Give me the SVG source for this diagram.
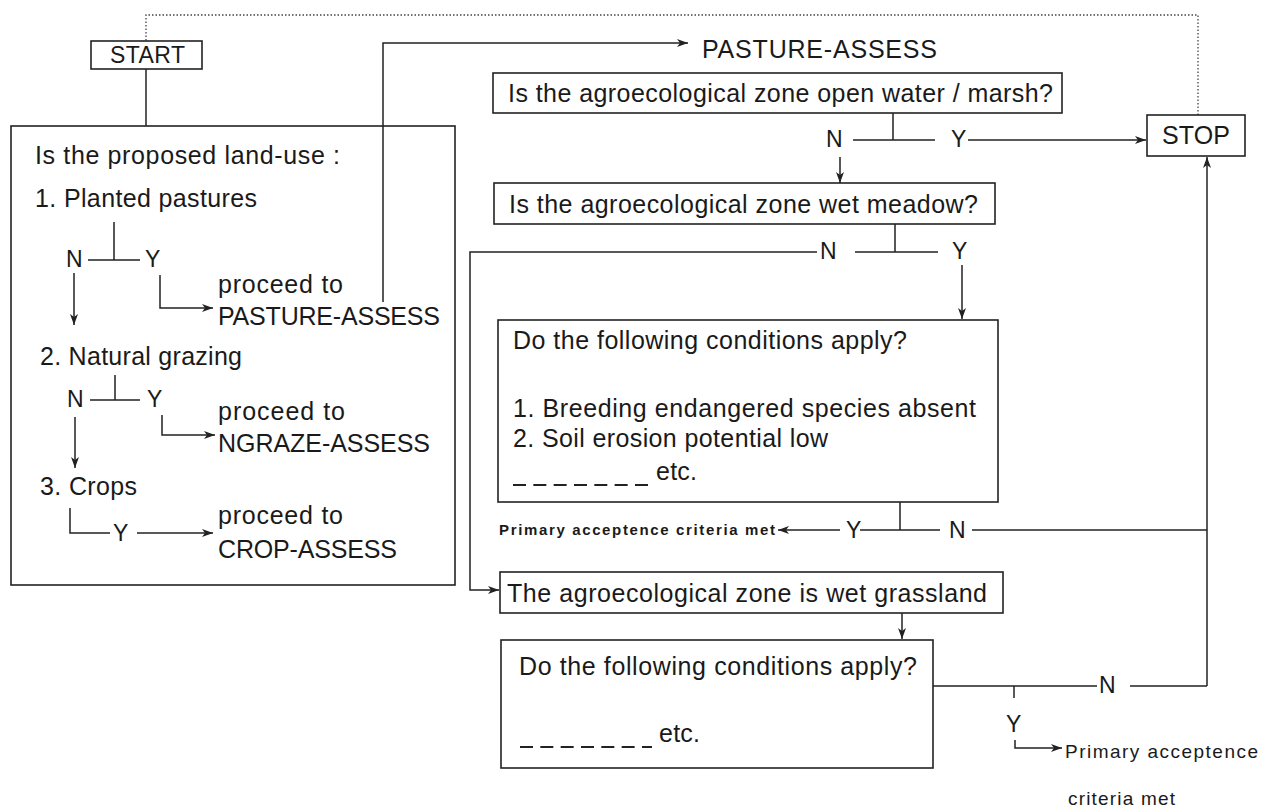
<svg xmlns="http://www.w3.org/2000/svg" width="1268" height="811" viewBox="0 0 1268 811">
<style>
.bg{fill:#ffffff}
.box{fill:none;stroke:#222;stroke-width:1.6}
.ln{fill:none;stroke:#222;stroke-width:1.5}
.dot{fill:none;stroke:#444;stroke-width:1.3;stroke-dasharray:1.5 2}
.dash{fill:none;stroke:#222;stroke-width:2;stroke-dasharray:13 7.33}
.t{font-family:"Liberation Sans",Arial,Helvetica,sans-serif;font-size:25px;fill:#1a1a1a}
.st{font-family:"Liberation Sans",Arial,Helvetica,sans-serif;font-size:23px;fill:#1a1a1a}
.lb{font-family:"Liberation Sans",Arial,Helvetica,sans-serif;font-size:23px;fill:#1a1a1a}
.sm{font-family:"Liberation Sans",Arial,Helvetica,sans-serif;font-size:15px;font-weight:bold;fill:#1a1a1a}
.sm2{font-family:"Liberation Sans",Arial,Helvetica,sans-serif;font-size:19px;fill:#1a1a1a}
</style>
<defs>
<marker id="ah" markerUnits="userSpaceOnUse" markerWidth="12" markerHeight="10" refX="11" refY="5" orient="auto">
<path d="M0,1 L11,5 L0,9 L3,5 z" fill="#222"/>
</marker>
</defs>
<rect class="bg" x="0" y="0" width="1268" height="811"/>

<g id="connectors">
<path class="ln" d="M146,69 V126"/>
<path class="dot" d="M1198,115 V15 H146 V41"/>
<path class="ln" d="M383,302 V43 H688" marker-end="url(#ah)"/>
<path class="ln" d="M114,222 V260 M88,260 H140"/>
<path class="ln" d="M160,275 V308 H213" marker-end="url(#ah)"/>
<path class="ln" d="M74,273 V325" marker-end="url(#ah)"/>
<path class="ln" d="M115,375 V400 M90,400 H140"/>
<path class="ln" d="M162,415 V435 H215" marker-end="url(#ah)"/>
<path class="ln" d="M75,417 V468" marker-end="url(#ah)"/>
<path class="ln" d="M70,508 V533 H110"/>
<path class="ln" d="M137,533 H213" marker-end="url(#ah)"/>
<path class="ln" d="M893,113 V140 M853,140 H935"/>
<path class="ln" d="M840,157 V183" marker-end="url(#ah)"/>
<path class="ln" d="M968,140 H1146" marker-end="url(#ah)"/>
<path class="ln" d="M895,224 V252 M855,252 H938"/>
<path class="ln" d="M817,252 H470 V590 H499" marker-end="url(#ah)"/>
<path class="ln" d="M962,265 V319" marker-end="url(#ah)"/>
<path class="ln" d="M900,502 V530 M860,530 H940"/>
<path class="ln" d="M840,530 H778" marker-end="url(#ah)"/>
<path class="ln" d="M972,530 H1207"/>
<path class="ln" d="M1207,686 V157" marker-end="url(#ah)"/>
<path class="ln" d="M902,613 V639" marker-end="url(#ah)"/>
<path class="ln" d="M933,686 H1097 M1130,686 H1207"/>
<path class="ln" d="M1014,686 V698"/>
<path class="ln" d="M1015,740 V748 H1062" marker-end="url(#ah)"/>
</g>

<g id="labels">
<text class="lb" x="66" y="267">N</text>
<text class="lb" x="145" y="267">Y</text>
<text class="lb" x="67" y="407">N</text>
<text class="lb" x="147" y="407">Y</text>
<text class="lb" x="113" y="541">Y</text>
<text class="lb" x="826" y="147">N</text>
<text class="lb" x="951" y="147">Y</text>
<text class="lb" x="820" y="259">N</text>
<text class="lb" x="952" y="259">Y</text>
<text class="lb" x="846" y="538">Y</text>
<text class="lb" x="949" y="538">N</text>
<text class="lb" x="1099" y="693">N</text>
<text class="lb" x="1006" y="732">Y</text>
<text class="sm" x="499" y="535" textLength="276" lengthAdjust="spacing">Primary acceptence criteria met</text>
<text class="sm2" x="1065" y="758" textLength="193" lengthAdjust="spacing">Primary acceptence</text>
<text class="sm2" x="1068" y="805" textLength="107" lengthAdjust="spacing">criteria met</text>
</g>

<g id="start">
<rect class="box" x="91" y="41" width="111" height="28"/>
<text class="st" x="110" y="63" textLength="75" lengthAdjust="spacing">START</text>
</g>

<g id="landuse">
<rect class="box" x="11" y="126" width="444" height="459"/>
<text class="t" x="35" y="164" textLength="305" lengthAdjust="spacing">Is the proposed land-use :</text>
<text class="t" x="35" y="207" textLength="222" lengthAdjust="spacing">1. Planted pastures</text>
<text class="t" x="218" y="293" textLength="125" lengthAdjust="spacing">proceed to</text>
<text class="t" x="218" y="325" textLength="222" lengthAdjust="spacing">PASTURE-ASSESS</text>
<text class="t" x="40" y="365" textLength="202" lengthAdjust="spacing">2. Natural grazing</text>
<text class="t" x="218" y="420" textLength="127" lengthAdjust="spacing">proceed to</text>
<text class="t" x="218" y="452" textLength="212" lengthAdjust="spacing">NGRAZE-ASSESS</text>
<text class="t" x="40" y="495" textLength="97" lengthAdjust="spacing">3. Crops</text>
<text class="t" x="218" y="524" textLength="125" lengthAdjust="spacing">proceed to</text>
<text class="t" x="218" y="558" textLength="179" lengthAdjust="spacing">CROP-ASSESS</text>
</g>

<g id="pasture-assess">
<text class="t" x="702" y="58" textLength="235" lengthAdjust="spacing">PASTURE-ASSESS</text>
</g>

<g id="q-openwater">
<rect class="box" x="493" y="73" width="569" height="40"/>
<text class="t" x="508" y="102" textLength="545" lengthAdjust="spacing">Is the agroecological zone open water / marsh?</text>
</g>

<g id="stop">
<rect class="box" x="1147" y="115" width="98" height="41"/>
<text class="t" x="1162" y="144" textLength="68" lengthAdjust="spacing">STOP</text>
</g>

<g id="q-wetmeadow">
<rect class="box" x="494" y="183" width="501" height="41"/>
<text class="t" x="509" y="213" textLength="469" lengthAdjust="spacing">Is the agroecological zone wet meadow?</text>
</g>

<g id="cond1">
<rect class="box" x="498" y="320" width="500" height="182"/>
<text class="t" x="513" y="349" textLength="394" lengthAdjust="spacing">Do the following conditions apply?</text>
<text class="t" x="513" y="417" textLength="463" lengthAdjust="spacing">1. Breeding endangered species absent</text>
<text class="t" x="513" y="447" textLength="315" lengthAdjust="spacing">2. Soil erosion potential low</text>
<path class="dash" d="M513,485 H648"/>
<text class="t" x="656" y="480" textLength="41" lengthAdjust="spacing">etc.</text>
</g>

<g id="wetgrassland">
<rect class="box" x="500" y="572" width="503" height="41"/>
<text class="t" x="507" y="602" textLength="480" lengthAdjust="spacing">The agroecological zone is wet grassland</text>
</g>

<g id="cond2">
<rect class="box" x="501" y="640" width="432" height="128"/>
<text class="t" x="519" y="675" textLength="398" lengthAdjust="spacing">Do the following conditions apply?</text>
<path class="dash" d="M520,747 H652"/>
<text class="t" x="659" y="742" textLength="41" lengthAdjust="spacing">etc.</text>
</g>
</svg>
